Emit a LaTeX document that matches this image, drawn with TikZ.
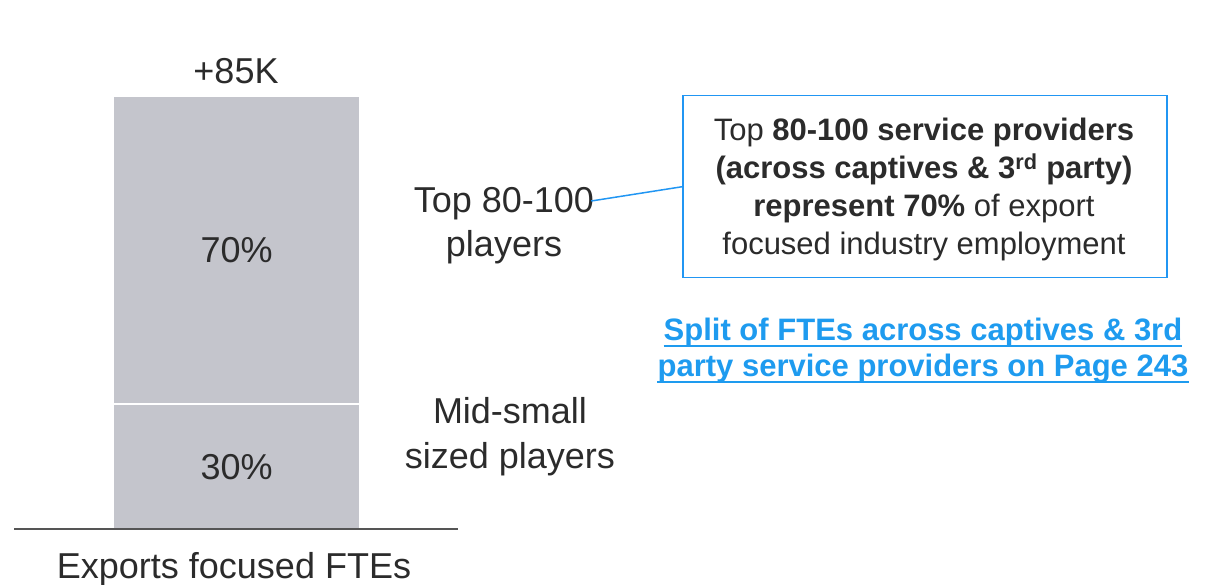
\documentclass[tikz,border=0pt]{standalone}
\usepackage{fontspec}
\setmainfont{Liberation Sans}
\definecolor{bargray}{HTML}{C4C5CC}
\definecolor{txt}{HTML}{2B2B2B}
\definecolor{axisgray}{HTML}{555555}
\definecolor{boxblue}{HTML}{2196F3}
\definecolor{linkblue}{HTML}{1E9BEF}
\begin{document}
\begin{tikzpicture}[x=1pt,y=-1pt,
  every node/.style={inner sep=0pt, text=txt},
  big/.style={font=\fontsize{36}{44}\selectfont, anchor=base},
  mid/.style={font=\fontsize{31}{38}\selectfont, anchor=base},
  linktext/.style={font=\fontsize{31}{38}\selectfont\bfseries, anchor=base, text=linkblue},
  seg/.style={fill=bargray, minimum width=245pt, anchor=north west, font=\fontsize{36}{44}\selectfont},
  callout/.style={draw=boxblue, line width=1.5pt, minimum width=484pt, minimum height=182pt, anchor=north west},
  leader/.style={draw=boxblue, line width=1.5pt},
  uline/.style={draw=linkblue, line width=2pt}]
\useasboundingbox (0,0) rectangle (1205,585);

% bar segments
\node[seg, minimum height=306pt] (s70) at (114,97) {70\%};
\node[seg, minimum height=124pt] (s30) at (114,405) {30\%};
\coordinate (axL) at (14,529);
\coordinate (axR) at (458,529);
\draw[axisgray, line width=1.5pt] (axL) -- (axR);

\node[big] (total) at (236,84) {+85K};
\node[big] (xlab) at (234,578) {Exports focused FTEs};

% side labels
\node[big] (top1) at (504,213) {Top 80-100};
\node[big] (top2) at (504,257) {players};
\node[big] (mid1) at (510,423) {Mid-small};
\node[big] (mid2) at (510,468) {sized players};

% callout
\node[callout] (box) at (682,95) {};
\node[mid] (c1) at (924,141) {Top \textbf{80-100 service providers}};
\node[mid] (c2) at (924,179) {\textbf{(across captives \& 3\textsuperscript{rd} party)}};
\node[mid] (c3) at (924,217) {\textbf{represent 70\%} of export};
\node[mid] (c4) at (924,255) {focused industry employment};
\draw[leader] ([xshift=-3pt,yshift=12pt]top1.base east) -- (box.west);

% link
\node[linktext] (l1) at (923,341) {Split of FTEs across captives \& 3rd};
\node[linktext] (l2) at (923,377) {party service providers on Page 243};
\draw[uline] ([yshift=-5pt]l1.base west) -- ([yshift=-5pt]l1.base east);
\draw[uline] ([yshift=-5pt]l2.base west) -- ([yshift=-5pt]l2.base east);
\end{tikzpicture}
\end{document}
